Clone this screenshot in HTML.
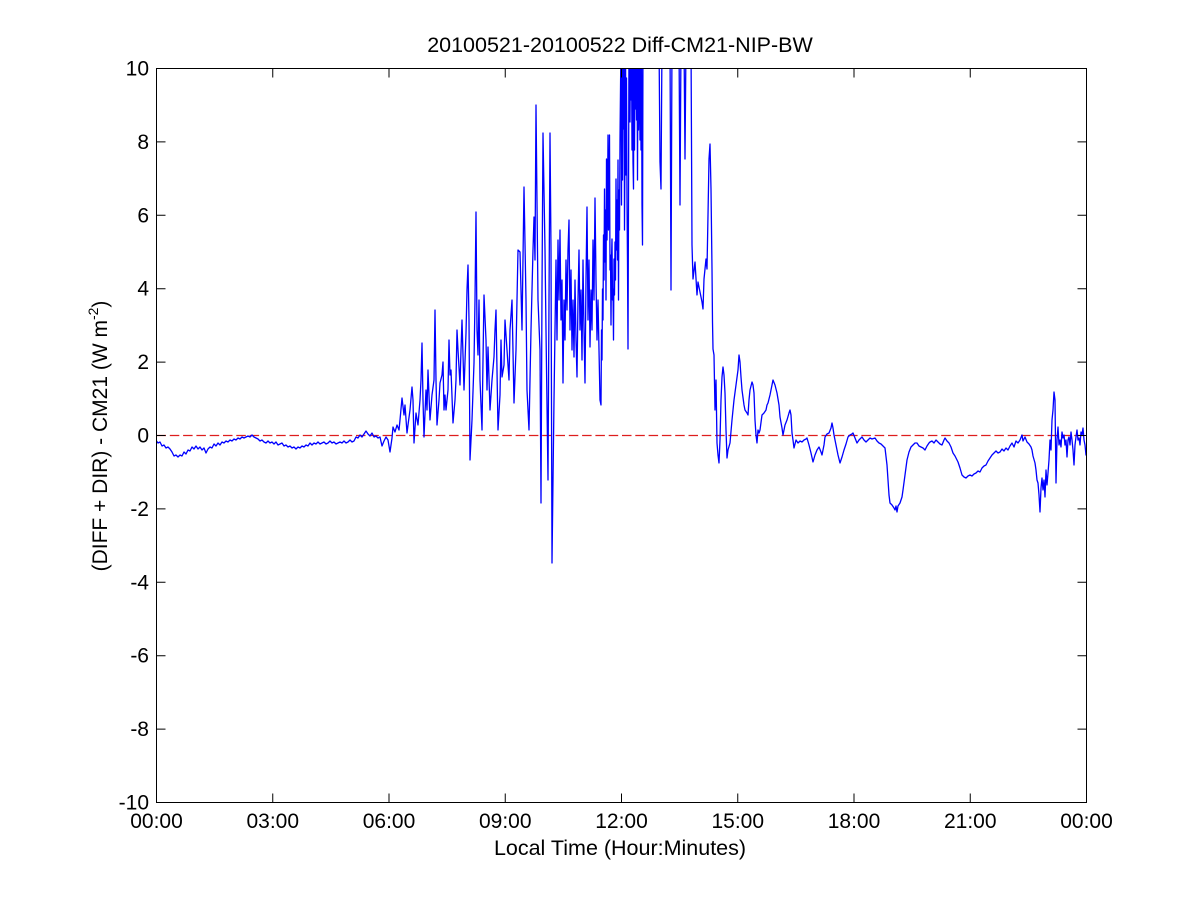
<!DOCTYPE html>
<html><head><meta charset="utf-8"><style>
html,body{margin:0;padding:0;background:#fff;}
svg{display:block;}
text{font-family:"Liberation Sans",Arial,sans-serif;fill:#000;}
</style></head><body>
<svg width="1201" height="901" viewBox="0 0 1201 901" xmlns="http://www.w3.org/2000/svg">
<defs><clipPath id="c"><rect x="156.5" y="68.5" width="930" height="734"/></clipPath></defs>
<rect width="1201" height="901" fill="#fff"/>
<g clip-path="url(#c)">
<line x1="156.5" y1="435.5" x2="1086.5" y2="435.5" stroke="#dd1e1e" stroke-width="1.2" stroke-dasharray="9.5,3.8"/>
<polyline fill="none" stroke="#0000ff" stroke-width="1.3" stroke-linejoin="round" points="156.5,441 158,443 160,442 162,446 164,445 166,448 168,447 170,449 172,452 174,456 176,455 178,457 180,455 182,456 184,452 186,454 188,450 190,451 192,447 194,449 196,446 198,449 200,447 202,450 204,448 206,453 208,449 210,447 212,448 214,444 216,446 218,443 220,445 222,442 224,443 226,441 228,442 230,440 232,441 234,439 236,440 238,438 240,439 242,437 244,438 246,437 248,436 250,437 252,435 254,437 256,438 258,439 260,441 262,440 264,442 266,443 268,441 270,443 272,442 274,444 276,442 278,445 280,444 282,443 284,446 286,445 288,447 290,446 292,448 294,447 296,449 298,447 300,448 302,446 304,447 306,445 308,446 310,443 312,445 314,443 316,444 318,442 320,444 322,443 324,442 326,444 328,443 330,441 332,443 334,442 336,444 338,443 340,442 342,443 344,441 346,443 348,442 350,440 352,442 354,441 356,437 358,438 360,435 362,437 364,434 366,431 368,434 370,436 372,433 374,437 376,436 378,438 380,437 382,446 384,441 386,437 388,440 390,452 392,438 393,427 395,432 397,425 399,430 400,420 402,398 404,415 405,405 407,433 408,425 410,410 412,387 413,400 414,443 416,413 418,425 420,400 421,380 422,343 423,400 424,437 426,390 427,410 428,370 430,420 432,395 434,380 435,310 436,380 437,425 439,400 440,383 442,375 443,362 444,410 445,395 446,410 448,390 449,340 450,375 451,370 453,423 455,400 456,380 457,330 458,350 460,385 461,350 462,320 464,390 466,333 467,290 468,265 469,320 470,460 472,420 474,363 475,300 476,212 477,330 478,355 479,300 480,380 482,430 483,360 484,295 486,340 487,390 488,347 490,410 492,380 494,357 495,330 496,310 498,430 500,395 501,340 502,377 504,365 505,320 507,350 509,380 510,330 512,300 514,403 516,350 517,300 518,250 520,252 521,290 522,330 524,187 526,300 527,390 529,430 531,330 533,250 534,217 535,260 536,105 538,300 540,350 541,503 542,290 543,133 545,250 546,330 548,480 549,300 550,133 551,250 552,563 553,480 554,400 555,330 556,260 557,340 558,240 559,300 560,230 561,320 562,280 563,383 564,300 565,340 566,260 567,310 568,250 569,220 570,330 571,270 572,350 573,300 574,357 575,280 576,340 577,377 578,300 579,250 580,330 581,290 582,360 583,260 584,330 585,383 586,280 587,207 588,320 589,260 590,347 591,290 592,330 593,240 594,300 595,198 596,280 597,340 598,300 599,350 600,400 601,405 601.5,330 602,360 602.5,289 603,320 603.5,235 604,280 604.5,189 605,262 605.5,210 606,300 606.5,159 607,240 607.5,202 608,135 608.5,230 609,195 609.5,135 610,270 610.5,255 611,325 611.5,260 612,239 612.5,300 613,289 613.5,340 614,259 614.5,295 615,242 615.5,280 616,179 616.5,250 617,200 617.5,260 618,160 618.5,300 619,190 619.5,230 620,140 621,40 621.5,205 622,40 622.5,180 623,40 623.5,129 624,40 624.5,230 625,150 625.5,40 626,175 626.5,78 627,200 627.5,262 628,349 628.5,200 629,40 629.5,82 630,122 630.5,40 631,100 631.5,40 632,150 632.5,40 633,162 633.5,189 634,40 634.5,150 635,40 635.5,109 636,40 636.5,120 637,40 637.5,180 638,40 638.5,130 639,40 640,140 640.5,40 641,150 641.5,40 642,205 642.5,245 643,40 659,40 660,162 661,189 662,40 670,40 671,290 672,40 679,40 680,205 681,40 684,40 685,159 686,40 691,40 692,245 693,279 695,262 697,295 698,282 700,292 702,302 703,309 704,279 706,259 707,269 708,215 709,159 710,144 711,189 712,269 712.5,322 713,349 714,355 715,410 716,380 717,443 718,455 719,463 720,440 721,400 722,377 723,367 724,375 725,393 726,430 727,458 728,450 730,443 732,420 734,400 736,385 738,370 739,355 740,362 741,377 742,390 744,405 745,410 747,413 748,415 749,400 750,390 752,382 753,385 754,393 755,420 756,435 757,443 758,430 759,433 760,430 762,415 764,413 766,410 767,405 768,403 770,395 772,385 773,380 775,385 777,393 779,405 780,417 782,428 783,435 785,425 787,420 789,413 790,410 791,415 792,433 793,440 794,448 796,440 798,443 800,441 802,442 804,440 806,439 807,438 809,445 811,453 813,462 815,455 817,450 819,447 821,452 822,455 824,445 825,437 827,434 829,433 831,428 832,423 833,428 834,435 836,445 838,455 840,463 842,457 844,450 846,444 848,437 850,435 852,434 853,433 855,438 857,443 859,440 862,437 864,440 866,442 868,440 870,438 872,439 875,438 877,441 879,443 881,444 883,446 885,448 887,465 888,480 889,495 890,503 892,505 894,508 895,510 896,506 897,512 898,506 900,503 902,497 903,490 905,475 907,460 909,452 911,447 913,445 915,443 917,443 919,446 921,447 923,448 925,450 927,446 929,443 930,442 932,441 934,443 936,440 938,442 940,444 942,445 944,440 945,438 947,441 949,443 951,447 953,453 955,456 957,460 958,462 960,468 962,475 964,477 966,478 968,476 970,475 972,476 974,474 976,473 978,471 980,472 982,468 984,466 986,465 988,461 990,458 992,455 994,453 996,451 998,453 1000,452 1002,449 1004,451 1006,448 1008,450 1010,446 1012,443 1014,447 1016,441 1018,443 1020,440 1022,435 1023,441 1025,437 1027,442 1029,444 1031,447 1032,450 1033,456 1035,463 1036,470 1037,480 1038,483 1039,495 1040,512 1041,488 1042,478 1043,490 1044,480 1045,497 1046,470 1047,485 1048,473 1049,460 1050,440 1051,450 1052,420 1053,410 1054,392 1055,400 1056,483 1057,440 1058,427 1059,445 1060,440 1061,447 1062,432 1063,438 1064,435 1065,445 1066,440 1067,457 1068,440 1069,437 1070,445 1071,432 1072,440 1073,450 1074,465 1075,445 1076,437 1077,430 1078,440 1079,438 1080,445 1081,432 1082,435 1083,428 1084,440 1085,445 1086,455 1086.5,450"/>
</g>
<rect x="156.5" y="68.5" width="930" height="734" fill="none" stroke="#000" stroke-width="1"/>
<g stroke="#000" stroke-width="1">
<path d="M272.75,802.5v-9M389,802.5v-9M505.25,802.5v-9M621.5,802.5v-9M737.75,802.5v-9M854,802.5v-9M970.25,802.5v-9
M272.75,68.5v9M389,68.5v9M505.25,68.5v9M621.5,68.5v9M737.75,68.5v9M854,68.5v9M970.25,68.5v9"/>
<path d="M156.5,141.9h9M156.5,215.3h9M156.5,288.7h9M156.5,362.1h9M156.5,435.5h9M156.5,508.9h9M156.5,582.3h9M156.5,655.7h9M156.5,729.1h9
M1086.5,141.9h-9M1086.5,215.3h-9M1086.5,288.7h-9M1086.5,362.1h-9M1086.5,435.5h-9M1086.5,508.9h-9M1086.5,582.3h-9M1086.5,655.7h-9M1086.5,729.1h-9"/>
</g>
<g font-size="21" text-anchor="end">
<text x="149" y="75.5">10</text>
<text x="149" y="148.9">8</text>
<text x="149" y="222.3">6</text>
<text x="149" y="295.7">4</text>
<text x="149" y="369.1">2</text>
<text x="149" y="442.5">0</text>
<text x="149" y="515.9">-2</text>
<text x="149" y="589.3">-4</text>
<text x="149" y="662.7">-6</text>
<text x="149" y="736.1">-8</text>
<text x="149" y="809.5">-10</text>
</g>
<g font-size="21" text-anchor="middle">
<text x="156.5" y="828">00:00</text>
<text x="272.75" y="828">03:00</text>
<text x="389" y="828">06:00</text>
<text x="505.25" y="828">09:00</text>
<text x="621.5" y="828">12:00</text>
<text x="737.75" y="828">15:00</text>
<text x="854" y="828">18:00</text>
<text x="970.25" y="828">21:00</text>
<text x="1086.5" y="828">00:00</text>
</g>
<text x="620" y="52" font-size="21.5" text-anchor="middle">20100521-20100522 Diff-CM21-NIP-BW</text>
<text x="620" y="855" font-size="21.5" text-anchor="middle">Local Time (Hour:Minutes)</text>
<text transform="translate(107,436) rotate(-90)" font-size="21" text-anchor="middle">(DIFF + DIR) - CM21 (W m<tspan font-size="14" dy="-9">-2</tspan><tspan dy="9">)</tspan></text>
</svg>
</body></html>
